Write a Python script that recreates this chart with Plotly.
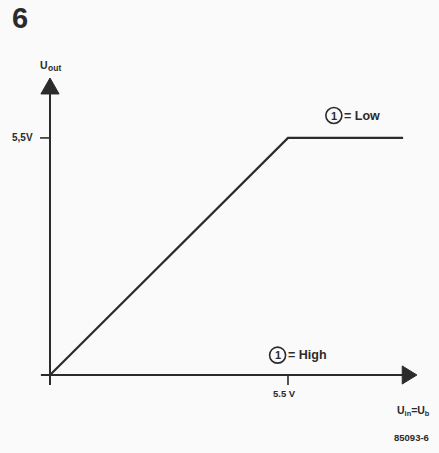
import plotly.graph_objects as go

# Transfer characteristic (volts)
u_in = [0.0, 5.5, 8.16]
u_out = [0.0, 5.5, 5.5]

# Axis tick values and their labels
x_tick_vals = [5.5]
x_tick_text = ["5.5 V"]
y_tick_vals = [5.5]
y_tick_text = ["5,5V"]

INK = "#2b2b2b"
FONT = "Liberation Sans, Arial, sans-serif"

# axis geometry (data units)
x_axis_end, x_arrow_tip = 8.16, 8.48
y_axis_end, y_arrow_tip = 6.54, 6.89
stub = 0.23

fig = go.Figure()

fig.add_trace(go.Scatter(
    x=u_in, y=u_out, mode="lines",
    line=dict(color=INK, width=2.2),
    hoverinfo="skip", showlegend=False,
))

shapes = [
    # axes
    dict(type="line", x0=-0.21, y0=0, x1=x_axis_end, y1=0,
         line=dict(color=INK, width=2)),
    dict(type="line", x0=0, y0=-stub, x1=0, y1=y_axis_end,
         line=dict(color=INK, width=2)),
    # arrow heads
    dict(type="path",
         path=f"M {x_axis_end-0.02},-0.21 L {x_arrow_tip},0 L {x_axis_end-0.02},0.21 Z",
         fillcolor=INK, line=dict(color=INK, width=1)),
    dict(type="path",
         path=f"M -0.21,{y_axis_end-0.02} L 0,{y_arrow_tip} L 0.21,{y_axis_end-0.02} Z",
         fillcolor=INK, line=dict(color=INK, width=1)),
]
for v in x_tick_vals:
    shapes.append(dict(type="line", x0=v, y0=0, x1=v, y1=-stub,
                       line=dict(color=INK, width=1.6)))
for v in y_tick_vals:
    shapes.append(dict(type="line", x0=-stub, y0=v, x1=0, y1=v,
                       line=dict(color=INK, width=1.6)))

annotations = []
for v, t in zip(x_tick_vals, x_tick_text):
    annotations.append(dict(x=v, y=-0.42, xshift=-3, text=f"<b>{t}</b>",
                            showarrow=False,
                            font=dict(family=FONT, size=9.5, color=INK),
                            xanchor="center", yanchor="middle"))
for v, t in zip(y_tick_vals, y_tick_text):
    annotations.append(dict(x=-0.35, y=v, text=f"<b>{t}</b>", showarrow=False,
                            font=dict(family=FONT, size=10, color=INK),
                            xanchor="right", yanchor="middle"))

# state labels with circled "1"
states = [("= Low", 6.56, 6.02), ("= High", 5.26, 0.46)]
for label, cx, cy in states:
    shapes.append(dict(type="circle", xsizemode="pixel", ysizemode="pixel",
                       xanchor=cx, yanchor=cy, x0=-8, x1=8, y0=-8, y1=8,
                       line=dict(color=INK, width=1.6)))
    annotations.append(dict(x=cx, y=cy, text="<b>1</b>", showarrow=False,
                            font=dict(family=FONT, size=11, color=INK),
                            xanchor="center", yanchor="middle"))
    annotations.append(dict(x=cx, y=cy, xshift=8, text=f"<b>{label}</b>",
                            showarrow=False,
                            font=dict(family=FONT, size=12.5, color=INK),
                            xanchor="left", yanchor="middle"))

# y-axis title: "U" with a lowered "out"
annotations += [
    dict(x=-0.28, y=7.2, text="<b>U</b>", showarrow=False,
         font=dict(family=FONT, size=10.5, color=INK),
         xanchor="left", yanchor="middle"),
    dict(x=-0.28, y=7.2, xshift=8, yshift=-3, text="<b>out</b>",
         showarrow=False, font=dict(family=FONT, size=8.5, color=INK),
         xanchor="left", yanchor="middle"),
]

# x-axis title, figure number and reference code
annotations += [
    dict(x=8.83, y=-0.84, text="<b>U<sub>in</sub>=U<sub>b</sub></b>",
         showarrow=False,
         font=dict(family=FONT, size=10.5, color=INK),
         xanchor="right", yanchor="middle"),
    dict(x=8.8, y=-1.46, text="<b>85093-6</b>", showarrow=False,
         font=dict(family=FONT, size=9.5, color=INK),
         xanchor="right", yanchor="middle"),
    dict(x=-0.7, y=8.28, text="<b>6</b>", showarrow=False,
         font=dict(family=FONT, size=29, color=INK),
         xanchor="center", yanchor="middle"),
]

fig.update_layout(
    width=439, height=453,
    margin=dict(l=0, r=0, t=0, b=0),
    paper_bgcolor="#fafafa", plot_bgcolor="#fafafa",
    xaxis=dict(range=[-1.1555, 8.99], visible=False, fixedrange=True),
    yaxis=dict(range=[-1.81, 8.70], visible=False, fixedrange=True),
    shapes=shapes, annotations=annotations, showlegend=False,
)

fig.write_html("out.html")
